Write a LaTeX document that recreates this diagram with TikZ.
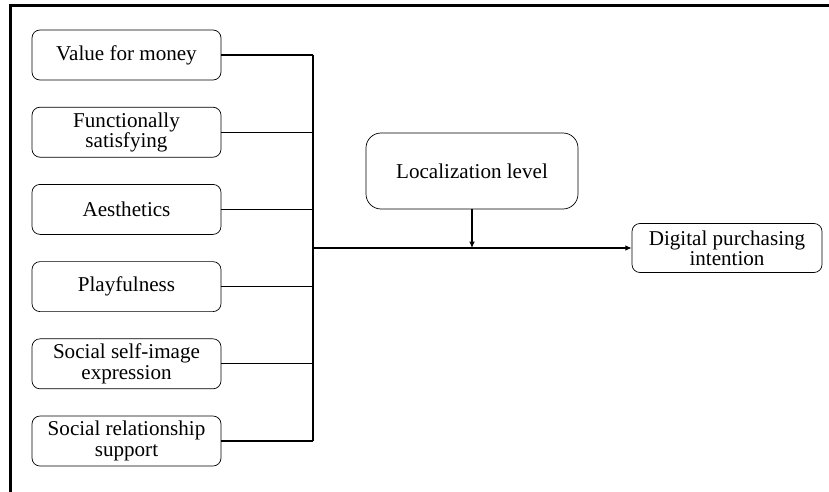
\documentclass[tikz,border=0pt]{standalone}
\usepackage{fontspec}
\setmainfont{Liberation Serif}
\usetikzlibrary{positioning,arrows.meta}

\tikzset{
    factor/.style={draw, rounded corners=0.16cm,
        minimum width=3.78cm, minimum height=1cm,
        inner sep=1pt, align=center,
        font=\fontsize{12}{11.5}\selectfont},
    link/.style={line width=0.6pt},
    tip/.style={-{Latex[length=3.6pt,width=3.2pt]}},
}

\begin{document}
\begin{tikzpicture}
        \useasboundingbox (0,0) rectangle (16.58,-9.82);
        % frame
        \draw[line width=1.5pt] (0.21,-10) -- (0.21,-0.11) -- (17,-0.11);

        \node[factor] (vfm) at (2.53,-1.1) {Value for money};
        \node[factor, below = 0.53 of vfm] (func) {Functionally\\satisfying};
        \node[factor, below = 0.53 of func] (aes) {Aesthetics};
        \node[factor, below = 0.53 of aes] (play) {Playfulness};
        \node[factor, below = 0.53 of play] (self) {Social self-image\\expression};
        \node[factor, below = 0.53 of self] (rel) {Social relationship\\support};

        \node[draw, rounded corners=0.3cm,
            minimum width=4.24cm, minimum height=1.52cm,
            font=\fontsize{12}{11.5}\selectfont] (loc) at (9.44,-3.42) {Localization level};
        \node[factor, minimum width=3.8cm, minimum height=0.98cm] (dpi) at (14.54,-4.96)
            {Digital purchasing\\intention};

        \coordinate (bus) at (6.26,0);
        \foreach \f in {vfm,func,aes,play,self,rel}
            \draw[link] (\f.east) -- (\f.east -| bus);
        \draw[link] (vfm.east -| bus) -- (rel.east -| bus);

        \draw[link, tip] (bus |- dpi.west) -- (dpi.west);
        \draw[link, tip] (loc.south) -- (loc.south |- dpi.west);
    \end{tikzpicture}
\end{document}
